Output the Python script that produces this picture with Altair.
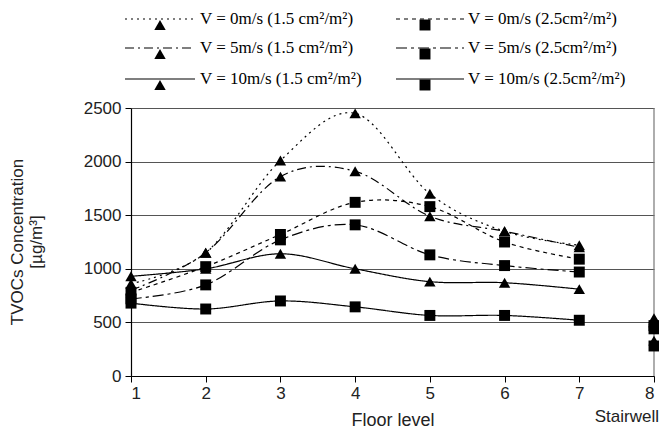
import altair as alt
import pandas as pd

floors = [1, 2, 3, 4, 5, 6, 7]
stair_floor = 8

labels = [
    "V = 0m/s (1.5 cm²/m²)",
    "V = 5m/s (1.5 cm²/m²)",
    "V = 10m/s (1.5 cm²/m²)",
    "V = 0m/s (2.5cm²/m²)",
    "V = 5m/s (2.5cm²/m²)",
    "V = 10m/s (2.5cm²/m²)",
]
v0_15 = [860, 1150, 2010, 2450, 1700, 1350, 1220]
v5_15 = [800, 1150, 1860, 1910, 1490, 1350, 1200]
v10_15 = [930, 1000, 1140, 1000, 880, 870, 810]
v0_25 = [780, 1020, 1320, 1620, 1580, 1250, 1090]
v5_25 = [720, 850, 1270, 1410, 1130, 1030, 970]
v10_25 = [680, 625, 700, 645, 565, 565, 520]
stairwell = [540, 500, 330, 470, 440, 280]

series_values = [v0_15, v5_15, v10_15, v0_25, v5_25, v10_25]
shapes = ["triangle-up"] * 3 + ["square"] * 3
dashes = [[2, 4], [9, 4, 2, 4], [1, 0], [4, 4], [11, 4, 3, 4], [1, 0]]

rows = []
for lab, vals in zip(labels, series_values):
    for f, v in zip(floors, vals):
        rows.append({"series": lab, "floor": f, "value": v})
line_df = pd.DataFrame(rows)
pt_rows = list(rows) + [
    {"series": lab, "floor": stair_floor, "value": v} for lab, v in zip(labels, stairwell)
]
pt_df = pd.DataFrame(pt_rows)

FONT = "Liberation Sans"
SERIF = "Liberation Serif"

x_enc = alt.X("floor:Q", scale=alt.Scale(domain=[1, 8], nice=False, zero=False),
              axis=alt.Axis(values=[1, 2, 3, 4, 5, 6, 7, 8], format="d", title="Floor level",
                            grid=False, tickSize=6, labelPadding=3, titlePadding=10,
                            titleFontSize=18))
y_enc = alt.Y("value:Q", scale=alt.Scale(domain=[0, 2500], nice=False),
              axis=alt.Axis(values=[0, 500, 1000, 1500, 2000, 2500], format="d", title=None,
                            grid=True, tickSize=6, labelPadding=4))

layers = []
# right border
layers.append(alt.Chart(pd.DataFrame({"floor": [8]})).mark_rule(color="#777", strokeWidth=1.2)
              .encode(x=alt.X("floor:Q", scale=alt.Scale(domain=[1, 8], nice=False))))

for i, lab in enumerate(labels):
    base_line = alt.Chart(line_df).transform_filter(alt.datum.series == lab)
    layers.append(base_line.mark_line(color="black", strokeWidth=1.2, interpolate="cardinal",
                                      strokeDash=dashes[i]).encode(x=x_enc, y=y_enc))
    layers.append(alt.Chart(pt_df).transform_filter(alt.datum.series == lab)
                  .mark_point(shape=shapes[i], filled=True, color="black", opacity=1,
                              size=120 if shapes[i] == "square" else 130)
                  .encode(x=x_enc, y=y_enc))

# legend
col_x = [(-6, 64, 29, 69), (265, 333, 294, 337)]
row_y = [-89, -60, -29]
for i, lab in enumerate(labels):
    c, r = divmod(i, 3)
    x0, x1, xm, xt = col_x[c]
    yy = row_y[r]
    layers.append(alt.Chart(pd.DataFrame({"a": [0]})).mark_rule(
        color="black", strokeWidth=1.2, strokeDash=dashes[i]).encode(
        x=alt.value(x0), x2=alt.value(x1), y=alt.value(yy)))
    layers.append(alt.Chart(pd.DataFrame({"a": [0]})).mark_point(
        shape=shapes[i], filled=True, color="black", opacity=1,
        size=120 if shapes[i] == "square" else 130).encode(
        x=alt.value(xm), y=alt.value(yy + 6)))
    layers.append(alt.Chart(pd.DataFrame({"t": [lab]})).mark_text(
        font=SERIF, fontSize=17, align="left", baseline="middle", color="black").encode(
        x=alt.value(xt), y=alt.value(yy), text="t:N"))

# y title (two lines)
layers.append(alt.Chart(pd.DataFrame({"t": ["TVOCs Concentration"]})).mark_text(
    font=FONT, fontSize=17, angle=270, align="center", baseline="middle", color="#222").encode(
    x=alt.value(-113), y=alt.value(134), text="t:N"))
layers.append(alt.Chart(pd.DataFrame({"t": ["[µg/m³]"]})).mark_text(
    font=FONT, fontSize=17, angle=270, align="center", baseline="middle", color="#222").encode(
    x=alt.value(-94), y=alt.value(134), text="t:N"))
# Stairwell label
layers.append(alt.Chart(pd.DataFrame({"t": ["Stairwell"], "floor": [8]})).mark_text(
    font=FONT, fontSize=17, align="right", baseline="middle", color="#222", dx=5).encode(
    x=alt.X("floor:Q", scale=alt.Scale(domain=[1, 8], nice=False)), y=alt.value(309), text="t:N"))

chart = alt.layer(*layers).properties(
    width=523, height=268,
    padding={"left": 123, "top": 100, "right": 5, "bottom": 60},
    autosize=alt.AutoSizeParams(type="none"),
).configure_view(stroke=None).configure_axis(
    labelFont=FONT, titleFont=FONT, labelFontSize=17, titleFontSize=17,
    labelColor="#222", titleColor="#222", domainColor="black", tickColor="black",
    gridColor="#555", gridWidth=1, titleFontWeight="normal", domainWidth=1.2,
)

chart.save("out.html", embed_options={"renderer": "svg", "actions": False})
